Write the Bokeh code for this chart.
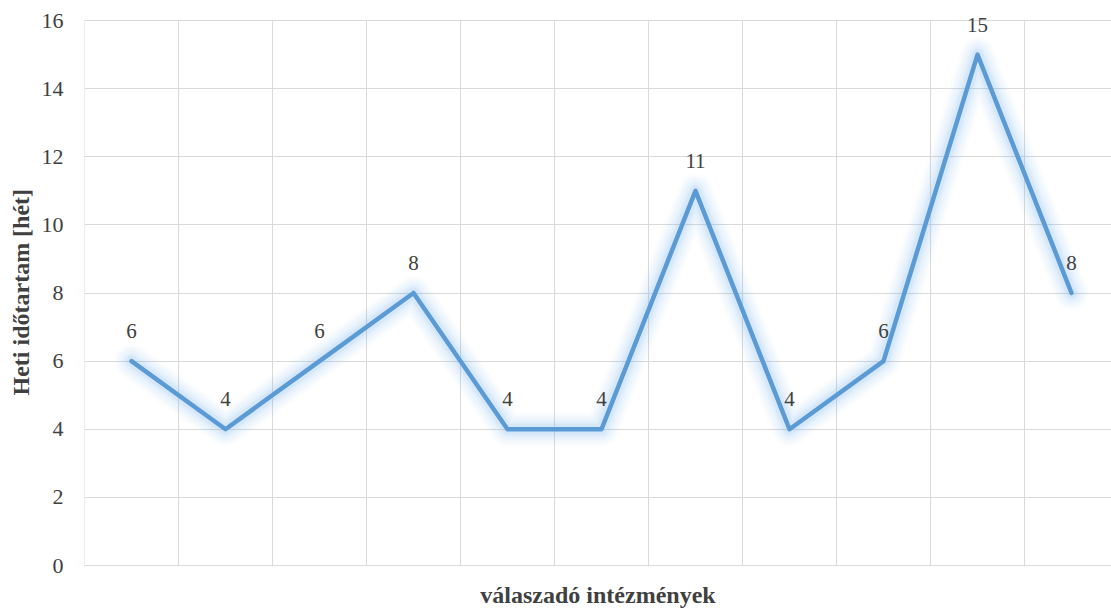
from bokeh.plotting import figure
from bokeh.models import FixedTicker, ColumnDataSource, LabelSet, Range1d, Label, Title
from bokeh.embed import file_html
from bokeh.resources import INLINE

# ---- data ----
categories = [1, 2, 3, 4, 5, 6, 7, 8, 9, 10, 11]
values = [6, 4, 6, 8, 4, 4, 11, 4, 6, 15, 8]
labels = [str(v) for v in values]
y_ticks = [0, 2, 4, 6, 8, 10, 12, 14, 16]
x_grid_ticks = [c - 0.5 for c in categories] + [categories[-1] + 0.5]
x_title = "válaszadó intézmények"
y_title = "Heti időtartam [hét]"

FONT = "Liberation Serif"
TXT = "#404040"
LINE = "#5B9BD5"
GLOW = "#78B4F0"
GRID = "#D9D9D9"

# ---- layout geometry (pixels) ----
W, H = 1111, 612
LEFT = 84
PLOT_TOP, PLOT_BOTTOM = 20, 565
ppu = (PLOT_BOTTOM - PLOT_TOP) / (y_ticks[-1] - y_ticks[0])
y_hi = y_ticks[-1] + PLOT_TOP / ppu
y_lo = y_ticks[0] - (H - PLOT_BOTTOM) / ppu
cat_px = 94
x_lo = categories[0] - 0.5
x_hi = x_lo + (W - LEFT) / cat_px

src = ColumnDataSource(dict(x=categories, y=values, t=labels))
vsrc = ColumnDataSource(dict(x=x_grid_ticks,
                             y0=[y_ticks[0]] * len(x_grid_ticks),
                             y1=[y_ticks[-1]] * len(x_grid_ticks)))

p = figure(width=W, height=H, output_backend="svg", toolbar_location=None,
           x_range=Range1d(x_lo, x_hi), y_range=Range1d(y_lo, y_hi),
           min_border_left=LEFT, min_border_top=0, min_border_bottom=0,
           min_border_right=0)
p.outline_line_color = None
p.background_fill_color = "white"
p.border_fill_color = "white"

# horizontal grid
p.ygrid.ticker = FixedTicker(ticks=y_ticks)
p.ygrid.grid_line_color = GRID
p.ygrid.grid_line_width = 1
p.xgrid.visible = False
p.xaxis.visible = False

# vertical grid lines (category boundaries), limited to the value range
p.segment(x0="x", y0="y0", x1="x", y1="y1", source=vsrc,
          line_color=GRID, line_width=1)

# y axis
p.yaxis.ticker = FixedTicker(ticks=y_ticks)
p.yaxis.axis_line_color = None
p.yaxis.major_tick_line_color = None
p.yaxis.minor_tick_line_color = None
p.yaxis.major_tick_out = 0
p.yaxis.major_tick_in = 0
p.yaxis.major_label_standoff = 21
p.yaxis.major_label_text_font = FONT
p.yaxis.major_label_text_font_size = "22px"
p.yaxis.major_label_text_color = TXT

yt = Title(text=y_title, align="left", offset=H - 395,
           text_font=FONT, text_font_size="24px", text_font_style="bold",
           text_color=TXT, standoff=10)
p.add_layout(yt, "left")

# glow
for w, a in [(34, 0.04), (28, 0.05), (22, 0.06), (16, 0.08), (11, 0.11)]:
    p.line("x", "y", source=src, line_color=GLOW, line_width=w, line_alpha=a,
           line_join="round", line_cap="round")
p.line("x", "y", source=src, line_color=LINE, line_width=4.5, line_join="round",
       line_cap="round")

ls = LabelSet(x="x", y="y", text="t", source=src, y_offset=23,
              text_align="center", text_baseline="alphabetic",
              text_font=FONT, text_font_size="21px", text_color=TXT)
p.add_layout(ls)

xt = Label(x=(W - LEFT) / 2, y=H - 594, x_units="screen", y_units="screen",
           text=x_title, text_align="center", text_baseline="alphabetic",
           text_font=FONT, text_font_size="24px", text_font_style="bold",
           text_color=TXT)
p.add_layout(xt)

open("out.html", "w").write(file_html(p, INLINE))
